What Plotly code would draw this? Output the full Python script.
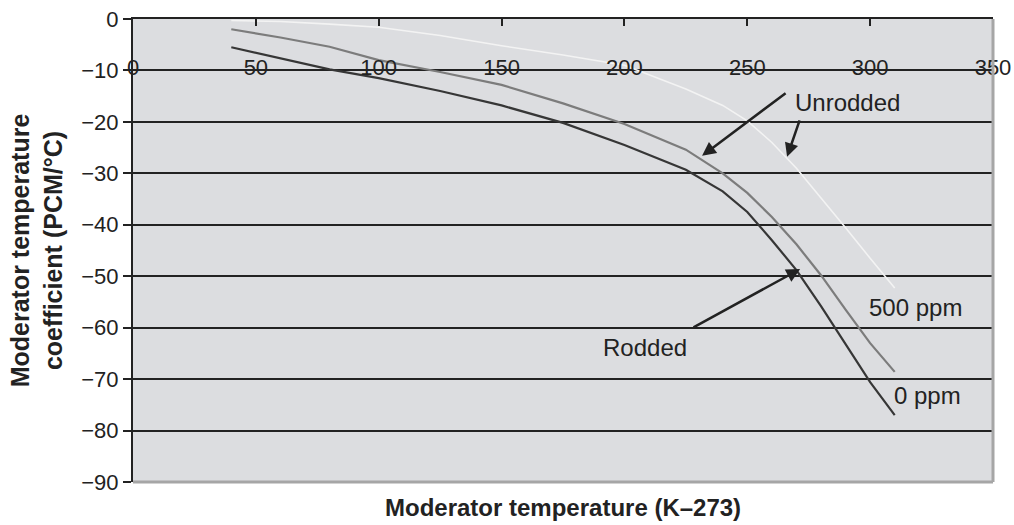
import plotly.graph_objects as go

# Moderator temperature (K-273) at which the coefficient is tabulated
temps = [40, 60, 80, 100, 125, 150, 175, 200, 225, 240, 250, 260, 270, 280, 290, 300, 310]

# Moderator temperature coefficient (PCM/°C)
rodded_0ppm = [-5.5, -7.7, -9.8, -11.5, -14.0, -16.8, -20.2, -24.5, -29.3, -33.5,
               -37.5, -43.0, -48.8, -55.8, -63.2, -70.6, -77.0]
unrodded_0ppm = [-2.0, -3.6, -5.4, -8.0, -10.3, -12.8, -16.4, -20.4, -25.4, -30.0,
                 -33.8, -38.5, -43.8, -49.8, -56.5, -63.0, -68.6]
unrodded_500ppm = [-0.3, -0.5, -1.0, -1.6, -3.2, -5.2, -7.0, -9.0, -13.6, -16.8,
                   -19.8, -24.0, -29.0, -34.7, -40.6, -46.5, -52.3]

x_ticks = [0, 50, 100, 150, 200, 250, 300, 350]
y_ticks = [0, -10, -20, -30, -40, -50, -60, -70, -80, -90]

INK = "#222222"
FONT = "Liberation Sans, Arial, Helvetica, sans-serif"

fig = go.Figure()

# (name, values, colour, width, x axis) - the 500 ppm curve also carries
# the x axis that prints the temperature labels inside the plot
series = [
    ("Unrodded, 500 ppm", unrodded_500ppm, "#f3f3f3", 1.6, "x2"),
    ("Unrodded, 0 ppm", unrodded_0ppm, "#7c7c7c", 2.2, "x"),
    ("Rodded, 0 ppm", rodded_0ppm, "#363636", 2.2, "x"),
]
for name, ys, color, width, xa in series:
    fig.add_trace(go.Scatter(x=temps, y=ys, mode="lines", name=name,
                             line=dict(color=color, width=width),
                             showlegend=False, xaxis=xa))

# value at which the temperature labels sit (straddling the -10 grid line)
label_row = -11.7

fig.update_layout(
    width=1014, height=525,
    margin=dict(l=133, r=21, t=19, b=43),
    paper_bgcolor="white",
    plot_bgcolor="#dcdde0",
    font=dict(family=FONT, color=INK),
    xaxis=dict(
        range=[0, 350], side="top", tickvals=x_ticks,
        showline=True, linecolor=INK, linewidth=2,
        ticks="inside", ticklen=7, tickwidth=2, tickcolor=INK,
        showticklabels=False, showgrid=False, zeroline=False,
        automargin=False,
    ),
    xaxis2=dict(
        range=[0, 350], overlaying="x",
        anchor="free", position=(label_row + 90) / 90, side="top",
        tickvals=x_ticks, showline=False, ticks="",
        showgrid=False, zeroline=False, automargin=False,
        tickfont=dict(size=22, color=INK, family=FONT),
    ),
    yaxis=dict(
        range=[-90, 0], tickvals=y_ticks,
        showgrid=True, gridcolor=INK, gridwidth=2,
        showline=True, linecolor=INK, linewidth=2,
        ticks="outside", ticklen=8, tickwidth=2, tickcolor=INK,
        zeroline=False, automargin=False,
        tickfont=dict(size=22, color=INK, family=FONT),
        title=dict(text="Moderator temperature<br>coefficient (PCM/°C)",
                   font=dict(size=25, weight="bold", color=INK, family=FONT),
                   standoff=12),
    ),
)

# lighter frame on the right and bottom of the plotting area
frame = dict(color="#a6a6a6", width=3)
fig.add_shape(type="line", xref="x domain", yref="y domain",
              x0=0, x1=1, y0=0, y1=0, line=frame)
fig.add_shape(type="line", xref="x domain", yref="y domain",
              x0=1, x1=1, y0=0, y1=1, line=frame)

# bottom axis title
fig.add_annotation(text="<b>Moderator temperature (K\u2013273)</b>",
                   xref="paper", yref="paper", x=0.5, y=0,
                   xanchor="center", yanchor="middle", yshift=-25,
                   showarrow=False, font=dict(size=24, color=INK, family=FONT))

arrow = dict(showarrow=True, arrowhead=2, arrowsize=1.1, arrowwidth=2.5,
             arrowcolor=INK, xref="x", yref="y", axref="x", ayref="y", text="")
# Unrodded pointers
fig.add_annotation(x=231.6, y=-26.6, ax=266.2, ay=-14.2, **arrow)
fig.add_annotation(x=266.2, y=-26.8, ax=271.5, ay=-19.4, **arrow)
# Rodded pointer
fig.add_annotation(x=271.5, y=-48.6, ax=227.5, ay=-60.1, **arrow)

label_font = dict(size=24, color=INK, family=FONT)
for text, x, y, anchor in [("Unrodded", 268.6, -16.3, "left"),
                           ("Rodded", 208.4, -63.8, "center"),
                           ("500 ppm", 298.7, -56.0, "left"),
                           ("0 ppm", 308.9, -73.1, "left")]:
    fig.add_annotation(text=text, x=x, y=y, xref="x", yref="y",
                       xanchor=anchor, yanchor="middle",
                       showarrow=False, font=label_font)

fig.write_html("out.html")
